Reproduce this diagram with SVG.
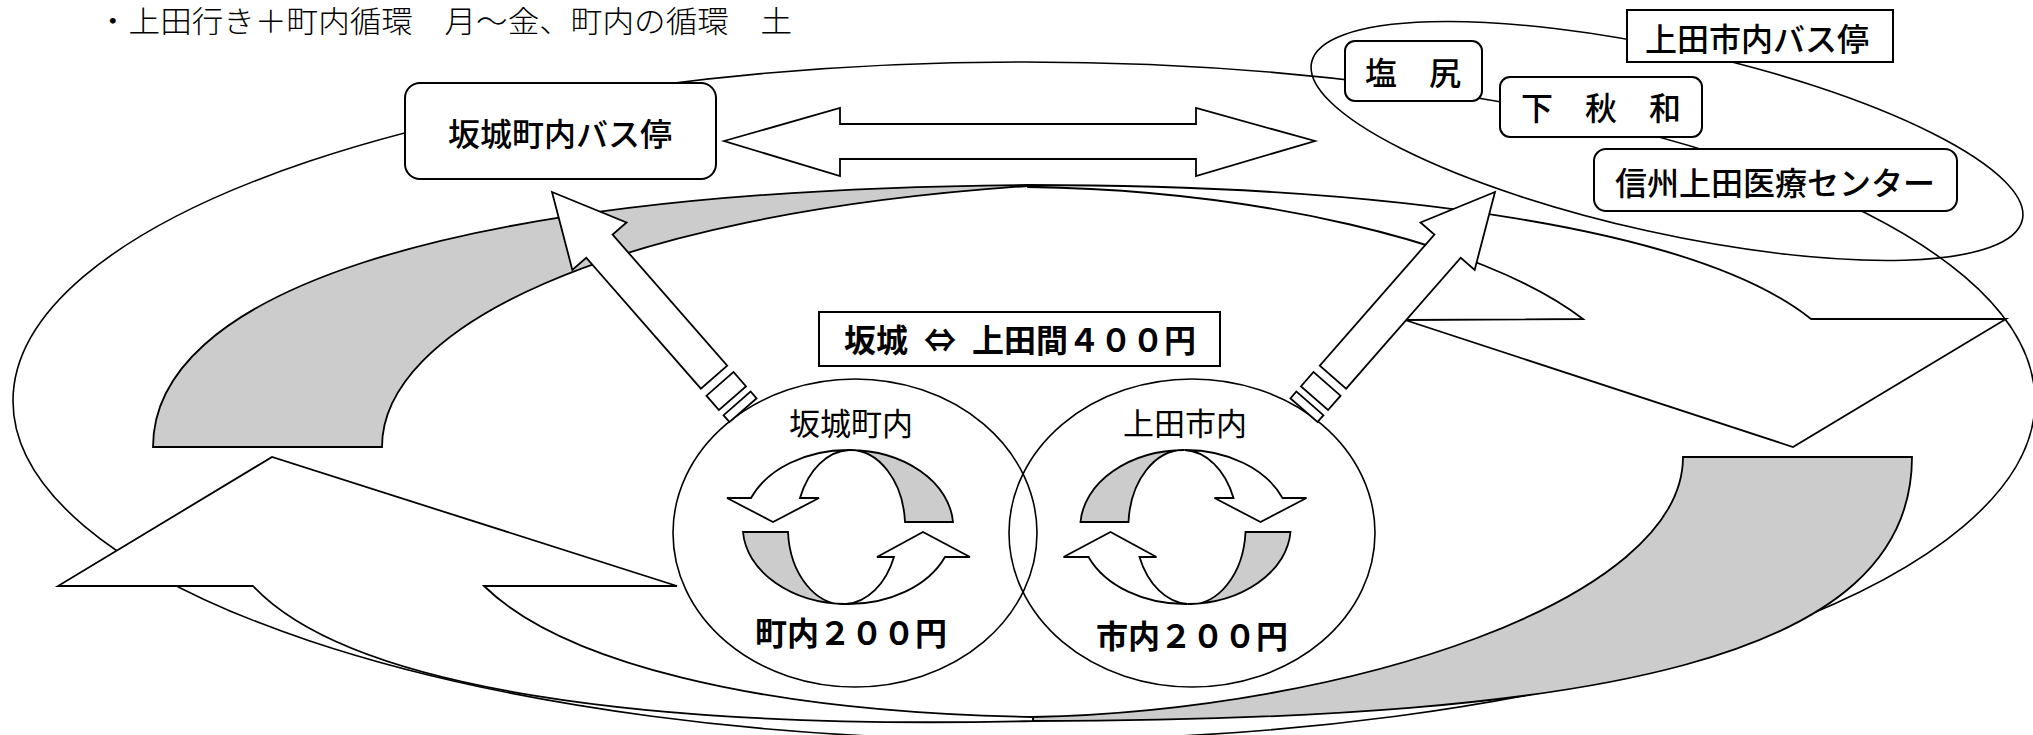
<svg xmlns="http://www.w3.org/2000/svg" xmlns:xlink="http://www.w3.org/1999/xlink" width="2033" height="735" viewBox="0 0 2033 735">
<style>
.ln{fill:none;stroke:#000;stroke-width:1.6}
.wf{fill:#fff;stroke:#000;stroke-width:1.8;stroke-linejoin:miter}
.gf{fill:#ccc;stroke:#000;stroke-width:1.8;stroke-linejoin:miter}
.box{fill:#fff;stroke:#000;stroke-width:2}
.t{font-family:"Noto Sans CJK JP","Noto Sans CJK SC",sans-serif;fill:#000}
.lbl{font-size:32px;text-anchor:middle;font-weight:500}
.bold{font-weight:bold}
</style>
<defs>
  <g id="diagArrow">
    <polygon class="wf" points="0,0 72,-36 72,-17.5 246,-17.5 246,17.5 72,17.5 72,36"/>
    <rect class="wf" x="255" y="-18" width="19" height="36"/>
    <rect class="wf" x="281" y="-18" width="9" height="36"/>
  </g>
  <g id="ringShape">
    <path class="wf" d="M751,498 A105,77 0 0 1 849,450 A55,77 0 0 0 800,498 L819,498 L773,522 L727,498 Z"/>
    <path class="gf" d="M849,450 A105,77 0 0 1 953,522 L905,522 A55,77 0 0 0 849,450 Z"/>
    <path class="gf" d="M743,532 A105,77 0 0 0 846,604 A55,77 0 0 1 788,532 Z"/>
    <path class="wf" d="M846,604 A105,77 0 0 0 945,557 L970,557 L923,532 L877,557 L894,557 A55,77 0 0 1 846,604 Z"/>
  </g>
</defs>

<text id="title" class="t" x="97" y="32" font-size="30" font-weight="300" fill="#222" textLength="695" lengthAdjust="spacingAndGlyphs">・上田行き＋町内循環　月～金、町内の循環　土</text>

<g id="connectors">
  <ellipse class="ln" cx="1024" cy="401" rx="1011" ry="339"/>
  <ellipse class="ln" cx="1667" cy="141" rx="364" ry="92" transform="rotate(12.5 1667 141)"/>
</g>

<g id="flow-top">
  <path class="gf" d="M153,447 L382,447 C382,330 600,215 1028,186 L1028,185 C420,190 153,300 153,447 Z"/>
  <path class="wf" d="M1028,185 C1400,185 1700,230 1811,319 L2006,319 L1793,447 L1405,320 L1583,319 C1480,240 1250,190 1028,187 Z"/>
</g>

<g id="flow-bottom">
  <path class="gf" d="M1683,457 L1912,457 C1912,660 1600,720 1033,721 L1033,717 C1350,710 1683,600 1683,457 Z"/>
  <path class="wf" d="M1033,721 C650,730 350,690 253,586 L58,586 L272,457 L677,586 L484,586 C560,660 750,712 1033,717 Z"/>
</g>

<g id="double-arrow">
  <polygon class="wf" points="724,141 840,108 840,124 1196,124 1196,108 1315,141 1196,176 1196,159 840,159 840,176"/>
</g>

<g id="circle-sakaki">
  <ellipse class="ln" cx="855" cy="533" rx="182" ry="154"/>
  <use xlink:href="#ringShape" href="#ringShape"/>
  <text class="t" x="851" y="435" font-size="31" text-anchor="middle">坂城町内</text>
  <text class="t bold" x="851" y="645" font-size="32" text-anchor="middle">町内２００円</text>
</g>

<g id="circle-ueda">
  <ellipse class="ln" cx="1192" cy="533" rx="183" ry="154"/>
  <use xlink:href="#ringShape" href="#ringShape" transform="translate(2033.5,0) scale(-1,1)"/>
  <text class="t" x="1185" y="435" font-size="31" text-anchor="middle">上田市内</text>
  <text class="t bold" x="1192" y="648" font-size="32" text-anchor="middle">市内２００円</text>
</g>

<g id="arrow-left">
  <use xlink:href="#diagArrow" href="#diagArrow" transform="translate(552,192) rotate(48.8)"/>
</g>
<g id="arrow-right">
  <use xlink:href="#diagArrow" href="#diagArrow" transform="translate(1495,192) scale(-1,1) rotate(48.8)"/>
</g>

<g id="fare-box">
  <rect class="box" x="819" y="312" width="401" height="54"/>
  <text class="t bold" y="352" font-size="32"><tspan x="844">坂城</tspan><tspan x="924">⇔</tspan><tspan x="972">上田間４００円</tspan></text>
</g>

<g id="stop-sakaki">
  <rect class="box" x="405" y="83" width="311" height="96" rx="15"/>
  <text class="t lbl" x="560" y="146">坂城町内バス停</text>
</g>

<g id="stop-ueda">
  <rect class="box" x="1627" y="10" width="266" height="52"/>
  <text class="t lbl" x="1757" y="51">上田市内バス停</text>
</g>

<g id="stop-shiojiri">
  <rect class="box" x="1345" y="41" width="137" height="60" rx="10"/>
  <text class="t lbl" x="1413" y="85">塩　尻</text>
</g>

<g id="stop-shimoakiwa">
  <rect class="box" x="1500" y="77" width="202" height="60" rx="10"/>
  <text class="t lbl" x="1601" y="120">下　秋　和</text>
</g>

<g id="stop-hospital">
  <rect class="box" x="1594" y="149" width="363" height="62" rx="12"/>
  <text class="t lbl" x="1775" y="195">信州上田医療センター</text>
</g>
</svg>
